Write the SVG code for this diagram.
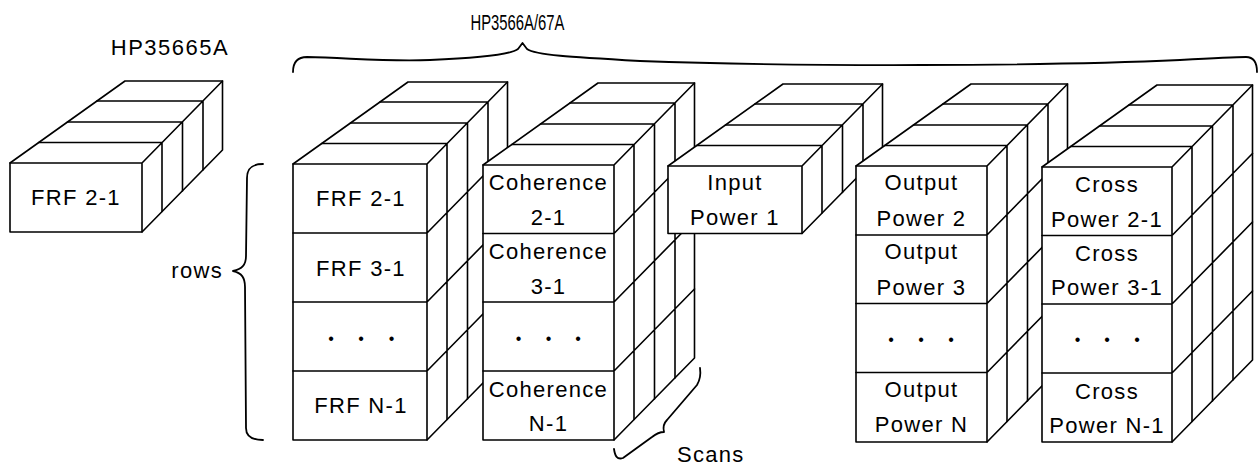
<svg xmlns="http://www.w3.org/2000/svg" width="1260" height="466" viewBox="0 0 1260 466">
<style>
.f{fill:#fff;stroke:#000;stroke-width:1.6;stroke-linejoin:round}
.l{fill:none;stroke:#000;stroke-width:1.6;stroke-linecap:round}
.b{fill:none;stroke:#000;stroke-width:1.8;stroke-linecap:round;stroke-linejoin:round}
.t{font-family:"Liberation Sans",Arial,sans-serif;font-size:22px;letter-spacing:1.3px;text-anchor:middle;fill:#000}
.d{font-family:"Liberation Sans",Arial,sans-serif;font-size:16px;text-anchor:middle;fill:#000}
</style>
<rect width="1260" height="466" fill="#fff"/>

<g id="hp35665a-frf">
<path class="f" d="M10,163 L125,81 L222.5,81 L222.5,150 L142,232 L10,232 Z"/>
<path class="l" d="M10,163 H142 V232 M142,163 L222.5,81 M38.7,142.5 H162 M67.5,122 H182.5 M97,101 H203 M162,142.5 V211.5 M182.5,122 V191 M203,101 V170"/>
<text class="t" x="76" y="205">FRF 2-1</text>
</g>

<g id="frf">
<path class="f" d="M293,164 L408,82 L507.5,82 L507.5,358 L427,440 L293,440 Z"/>
<path class="l" d="M293,164 H427 V440 M293,233 H427 M293,302 H427 M293,371 H427 M427,164 L507.5,82 M321.7,143.5 H447 M350.5,123 H467.5 M380,102 H488 M447,143.5 V419.5 M467.5,123 V399 M488,102 V378 M427,233 L507.5,151 M427,302 L507.5,220 M427,371 L507.5,289"/>
<text class="t" x="361" y="206">FRF 2-1</text>
<text class="t" x="361" y="275.5">FRF 3-1</text>
<text class="d" x="331 361 391.5" y="343.5">•••</text>
<text class="t" x="361" y="412.5">FRF N-1</text>
</g>

<g id="coherence">
<path class="f" d="M483,165 L598,83 L694.5,83 L694.5,358 L614,440 L483,440 Z"/>
<path class="l" d="M483,165 H614 V440 M483,233.5 H614 M483,302 H614 M483,371 H614 M614,165 L694.5,83 M511.7,144.5 H634 M540.5,124 H654.5 M570,103 H675 M634,144.5 V419.5 M654.5,124 V399 M675,103 V378 M614,233.5 L694.5,151.5 M614,302 L694.5,220 M614,371 L694.5,289"/>
<text class="t" x="548.5" y="190">Coherence</text>
<text class="t" x="548.5" y="225">2-1</text>
<text class="t" x="548.5" y="258.5">Coherence</text>
<text class="t" x="548.5" y="293.5">3-1</text>
<text class="d" x="518.5 548.5 578" y="343.5">•••</text>
<text class="t" x="548.5" y="396.5">Coherence</text>
<text class="t" x="548.5" y="431">N-1</text>
</g>

<g id="input-power">
<path class="f" d="M668,166 L783,84 L882.5,84 L882.5,151.5 L802,233.5 L668,233.5 Z"/>
<path class="l" d="M668,166 H802 V233.5 M802,166 L882.5,84 M696.7,145.5 H822 M725.5,125 H842.5 M755,104 H863 M822,145.5 V213 M842.5,125 V192.5 M863,104 V171.5"/>
<text class="t" x="735" y="190">Input</text>
<text class="t" x="735" y="225">Power 1</text>
</g>

<g id="output-power">
<path class="f" d="M856,166 L971,84 L1067.5,84 L1067.5,360 L987,442 L856,442 Z"/>
<path class="l" d="M856,166 H987 V442 M856,235 H987 M856,303.5 H987 M856,372.5 H987 M987,166 L1067.5,84 M884.7,145.5 H1007 M913.5,125 H1027.5 M943,104 H1048 M1007,145.5 V421.5 M1027.5,125 V401 M1048,104 V380 M987,235 L1067.5,153 M987,303.5 L1067.5,221.5 M987,372.5 L1067.5,290.5"/>
<text class="t" x="921.5" y="190">Output</text>
<text class="t" x="921.5" y="225.5">Power 2</text>
<text class="t" x="921.5" y="259">Output</text>
<text class="t" x="921.5" y="294.5">Power 3</text>
<text class="d" x="891 921 951" y="345">•••</text>
<text class="t" x="921.5" y="396.5">Output</text>
<text class="t" x="921.5" y="432">Power N</text>
</g>

<g id="cross-power">
<path class="f" d="M1042,167 L1157,85 L1252.5,85 L1252.5,360 L1172,442 L1042,442 Z"/>
<path class="l" d="M1042,167 H1172 V442 M1042,235.5 H1172 M1042,304 H1172 M1042,373 H1172 M1172,167 L1252.5,85 M1070.7,146.5 H1192 M1099.5,126 H1212.5 M1129,105 H1233 M1192,146.5 V421.5 M1212.5,126 V401 M1233,105 V380 M1172,235.5 L1252.5,153.5 M1172,304 L1252.5,222 M1172,373 L1252.5,291"/>
<text class="t" x="1107" y="192">Cross</text>
<text class="t" x="1107" y="226.5">Power 2-1</text>
<text class="t" x="1107" y="261">Cross</text>
<text class="t" x="1107" y="295">Power 3-1</text>
<text class="d" x="1077.5 1107 1137" y="345">•••</text>
<text class="t" x="1107" y="398.5">Cross</text>
<text class="t" x="1107" y="433">Power N-1</text>
</g>

<g id="annotations">
<text class="t" x="170" y="55" style="letter-spacing:1.5px">HP35665A</text>
<text class="t" x="517.5" y="29.5" style="letter-spacing:0" textLength="94" lengthAdjust="spacingAndGlyphs">HP3566A/67A</text>
<path class="b" d="M293,72 C293,62 298,57 307,57 C350,58 390,62 430,60 C480,58 510,55 518,49 L522.5,43 L527,49 C535,55 570,57 640,61 C800,67 1050,66 1180,60 C1215,58 1238,57 1246,57 C1253,57 1257,62 1257,72"/>
<path class="b" d="M263,164 C252,164 247,168 247,178 L246,256 C246,265 242,269 233,271 C242,273 245,278 245,287 L246,428 C246,436 251,440 263,440"/>
<text class="t" x="223" y="278" style="text-anchor:end">rows</text>
<path class="b" d="M614,449 C615,456 617,460 623,458 L652,437 C657,433 660,432 664,432 C663,428 663,424 667,420 L697,385 C700,380 701,375 700,368"/>
<text class="t" x="677" y="462" style="text-anchor:start">Scans</text>
</g>
</svg>
